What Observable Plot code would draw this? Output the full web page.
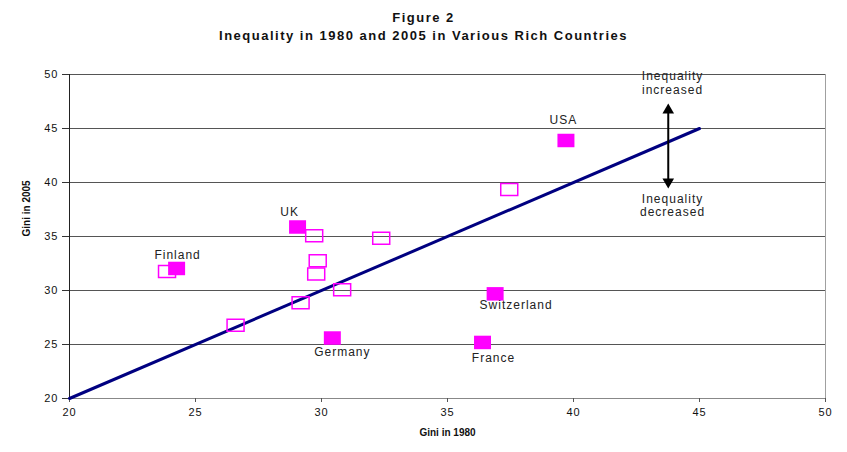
<!DOCTYPE html>
<html>
<head>
<meta charset="utf-8">
<script src="https://cdn.jsdelivr.net/npm/d3@7"></script>
<script src="https://cdn.jsdelivr.net/npm/@observablehq/plot@0.6"></script>
<style>
  body { margin: 0; background: #fff; font-family: "Liberation Sans", Arial, sans-serif; }
  #title { width: 847px; height: 45px; box-sizing: border-box; padding-top: 9px; text-align: center;
           font-weight: bold; font-size: 13px; line-height: 18px; color: #111; letter-spacing: 1.5px; }
  #chart svg g[font-size="12"] text { letter-spacing: 1px; }
  #chart svg g[aria-label="y-axis tick label"] text,
  #chart svg g[aria-label="x-axis tick label"] text { letter-spacing: 1px; }
</style>
</head>
<body>
<div id="title">Figure 2<br>Inequality in 1980 and 2005 in Various Rich Countries</div>
<div id="chart"></div>
<script>
// ---- data ----
const labeledCountries = ["USA", "UK", "Finland", "Germany", "Switzerland", "France"];
const labeledGini1980 = [39.7, 29.05, 24.25, 30.43, 36.89, 36.39];
const labeledGini2005 = [43.89, 35.88, 32.04, 25.6, 29.69, 25.19];
const otherGini1980 = [23.87, 29.71, 29.85, 29.79, 30.82, 29.17, 26.59, 32.37, 37.45];
const otherGini2005 = [31.76, 35.07, 32.75, 31.53, 30.07, 28.86, 26.79, 34.84, 39.35];
const equalityLine = [20, 45];
const xTicks = [20, 25, 30, 35, 40, 45, 50];
const yTicks = [20, 25, 30, 35, 40, 45, 50];
const annotationTexts = ["Inequality\nincreased", "Inequality\ndecreased"];
const annotationX = [43.93, 43.93];
const annotationY = [49.26, 37.9];
const arrowX = 43.76;
const arrowTop = 47.31;
const arrowBottom = 39.44;

// ---- styles ----
const labelDx = [-2.6, -8, 1, 10, 21, 11];
const labelDy = [-20, -15, -13, 14.5, 11, 16];
const filledRect = { draw(ctx) { ctx.rect(-8.5, -6.75, 17, 13.5); } };
const openRect = { draw(ctx) { ctx.rect(-8.5, -6, 17, 12); } };
const magenta = "#ff00ff";

const lineData = equalityLine.map(v => ({x: v, y: v}));
const openData = otherGini1980.map((x, i) => ({x, y: otherGini2005[i]}));
const filledData = labeledCountries.map((name, i) => ({name, x: labeledGini1980[i], y: labeledGini2005[i]}));
const annData = annotationTexts.map((t, i) => ({t, x: annotationX[i], y: annotationY[i]}));

const plot = Plot.plot({
  width: 847,
  height: 407,
  marginTop: 29,
  marginBottom: 54,
  marginLeft: 69,
  marginRight: 22,
  x: {domain: [20, 50]},
  y: {domain: [20, 50]},
  style: {fontFamily: "'Liberation Sans', Arial, sans-serif", fontSize: "11px", color: "#111", background: "#fff"},
  marks: [
    Plot.gridY(yTicks.filter(v => v > 20), {stroke: "#555", strokeOpacity: 1}),
    Plot.ruleY([20], {stroke: "#888"}),
    Plot.ruleX([50], {stroke: "#a0a0a0"}),
    Plot.ruleX([20], {stroke: "#222"}),
    Plot.axisX(xTicks, {tickSize: 4, tickPadding: 6, stroke: "#555", label: null}),
    Plot.axisY(yTicks, {tickSize: 7, tickPadding: 4, stroke: "#333", label: null}),
    Plot.text(["Gini in 1980"], {frameAnchor: "bottom", dy: 37, fontWeight: "bold", fontSize: 10, fill: "#111"}),
    Plot.text(["Gini in 2005"], {frameAnchor: "left", dx: -43, rotate: -90, fontWeight: "bold", fontSize: 10, fill: "#111"}),
    Plot.line(lineData, {x: "x", y: "y", stroke: "#000080", strokeWidth: 3}),
    Plot.dot(openData, {x: "x", y: "y", symbol: openRect, r: 5, fill: "none", stroke: magenta, strokeWidth: 1.5}),
    Plot.dot(filledData, {x: "x", y: "y", symbol: filledRect, r: 5, fill: magenta, stroke: "none"}),
    ...filledData.map((d, i) => Plot.text([d], {
      x: "x", y: "y", text: "name", dx: labelDx[i], dy: labelDy[i],
      fontSize: 12, fill: "#222"
    })),
    Plot.ruleX([arrowX], {y1: arrowBottom + 0.5, y2: arrowTop - 0.5, stroke: "#000", strokeWidth: 2}),
    Plot.dot([arrowTop], {x: () => arrowX, y: d => d, symbol: "triangle", r: 4.3, fill: "#000", dy: 6.7}),
    Plot.dot([arrowBottom], {x: () => arrowX, y: d => d, symbol: "triangle", r: 4.3, fill: "#000", rotate: 180, dy: -6.7}),
    Plot.text(annData, {x: "x", y: "y", text: "t", fontSize: 12, lineHeight: 1.125, fill: "#222"})
  ]
});
document.getElementById("chart").appendChild(plot);
</script>
</body>
</html>
